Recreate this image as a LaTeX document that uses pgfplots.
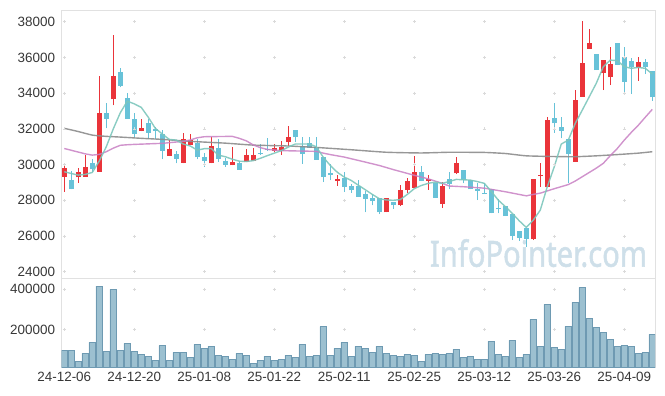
\documentclass[border=0pt]{standalone}
\usepackage{fontspec}
\setmainfont{Liberation Sans}
\newfontfamily\wmfont[FakeBold=1.6]{Noto Sans}
\usepackage{pgfplots}
\usepackage{pgfplotstable}
\pgfplotsset{compat=1.18}
\definecolor{upred}{RGB}{234,52,58}
\definecolor{dnblue}{RGB}{104,194,216}
\definecolor{framegray}{RGB}{225,225,225}
\definecolor{crossgray}{RGB}{218,218,218}
\definecolor{labelgray}{RGB}{55,55,55}
\definecolor{maA}{RGB}{125,198,188}
\definecolor{maB}{RGB}{200,128,195}
\definecolor{maC}{RGB}{140,140,140}
\definecolor{volfill}{RGB}{156,192,208}
\definecolor{voledge}{RGB}{110,154,178}
\definecolor{wmark}{RGB}{206,223,233}

\pgfplotstableread{
i O H L C
0 29320 30010 28480 29790
2 29280 29790 28980 29580
3 29320 30530 29320 29840
5 29600 34980 29600 32870
7 33650 37250 33310 34960
11 31900 32530 31860 32040
15 30480 31410 30480 30850
17 30100 31750 30070 31410
18 31070 31690 31070 31370
21 30070 31560 30070 31040
24 29960 30960 29960 30130
26 30130 30870 30130 30560
27 30220 30910 30220 30560
30 30780 31150 30690 30930
31 30780 31330 30560 31000
32 31240 32150 31060 31520
39 29070 29390 28810 29190
46 27330 28150 27330 28150
48 27720 28830 27670 28590
49 28590 29260 28410 29060
50 28700 30500 28700 29610
52 29070 29440 28590 29220
54 27810 29020 27590 28780
56 29510 30400 29470 30100
67 25810 29170 25770 29170
68 29360 30100 28760 29430
69 28720 32680 28720 32490
73 30160 34170 30160 33610
74 33800 38060 33800 35700
75 36490 37610 36490 36790
77 35140 35850 34170 35850
78 34880 36600 34450 35630
82 35390 36000 34700 35740
}\upcandles

\pgfplotstableread{
i O H L C
1 29130 29650 28610 28610
4 30070 30290 29600 29730
6 32870 33430 32030 32570
8 35180 35390 34320 34400
9 33710 33990 32570 32570
10 32530 32900 31520 31710
12 32310 32530 31410 31780
13 31970 32120 31460 31900
14 31710 31930 30290 30780
16 30590 30780 30070 30330
19 31190 31410 30290 30400
20 30400 30630 29880 30220
22 30920 31410 30160 30330
23 30180 30350 29880 29990
25 30070 30220 29700 29700
28 30630 31150 30560 30590
29 30870 31480 30780 30810
33 31960 31960 31240 31520
34 31060 31520 30040 30590
35 31190 31520 30930 30930
36 31000 31520 30260 30260
37 30410 30410 29020 29300
38 29520 30040 29110 29410
40 29260 29570 28460 28740
41 28780 28930 28410 28560
42 28780 29110 28190 28190
43 28370 28520 27330 28070
44 28110 28330 27720 27960
45 28150 28150 27220 27330
47 27910 27910 27540 27720
51 29560 29930 29070 29070
53 28960 28960 28150 28150
55 29170 29600 28610 28910
57 29690 29690 28950 29130
58 29130 29130 28610 28610
59 28650 28980 28010 28530
60 28420 28980 28350 28350
61 28610 28610 27270 27270
62 27550 28100 27270 27490
63 27680 27680 27120 27120
64 27230 27230 25770 26000
65 26290 26290 25730 25880
66 26440 26440 25400 25850
70 32600 33430 31780 32300
71 32120 32680 31470 31900
72 31410 31410 28950 30590
76 36190 36190 35290 35290
79 36820 36820 35570 35570
80 36000 36600 33950 34640
81 35800 35950 33950 35480
83 35740 35890 35070 35480
84 35240 35240 33570 33760
}\dncandles

\pgfplotstableread{
i v
0 95900
1 95900
2 43000
3 81000
4 135500
5 415000
6 90900
7 398000
8 95900
9 130600
10 90900
11 76000
12 66100
13 46300
14 119000
15 46300
16 86000
17 86000
18 61200
19 125600
20 105800
21 115700
22 71100
23 66100
24 51200
25 81000
26 71100
27 31400
28 46300
29 66100
30 46300
31 51200
32 71100
33 61200
34 125600
35 66100
36 71100
37 213200
38 71100
39 105800
40 135500
41 66100
42 115700
43 105800
44 86000
45 115700
46 81000
47 71100
48 66100
49 76000
50 71100
51 41300
52 76000
53 81000
54 76000
55 81000
56 100800
57 61200
58 66100
59 51200
60 51200
61 140500
62 76000
63 66100
64 145500
65 61200
66 76000
67 249600
68 115700
69 324000
70 110800
71 100800
72 214900
73 333900
74 408300
75 254600
76 209900
77 185100
78 150400
79 115700
80 120700
81 115700
82 81000
83 86000
84 175200
}\voltable

\pgfplotsset{
  myax/.style={
    scale only axis, width=593.3bp,
    xmin=-0.37, xmax=84.39,
    axis line style={draw=framegray, line width=0.8bp},
    major tick length=0pt,
    tick style={draw=none},
    scaled y ticks=false, scaled x ticks=false,
    ticklabel style={font=\fontsize{13.5}{14}\selectfont, text=labelgray},
    yticklabel style={inner sep=0pt, xshift=-6.5bp, anchor=east},
    xticklabel style={inner sep=0pt, yshift=-4.4bp, anchor=north},
  },
  crossmk/.style={only marks, mark=+, mark size=1.5bp, color=crossgray, mark options={line width=0.7bp}},
  candle/.style 2 args={draw=none, mark=none, forget plot,
    error bars/.cd, y dir=plus, y explicit, error mark=none,
    error bar style={line width=#2, draw=#1, solid}},
}

\begin{document}
\begin{tikzpicture}
\useasboundingbox (0,0) rectangle (665bp,396bp);
\node[anchor=base, text=wmark, inner sep=0pt] at (538.5bp,129.3bp)
  {\resizebox{217bp}{27.5bp}{\wmfont InfoPointer.com}};

% price panel
\begin{axis}[myax, at={(61.7bp,117.7bp)}, anchor=south west, height=268.3bp,
  ymin=23633, ymax=38655,
  xtick=\empty,
  ytick={24000,26000,28000,30000,32000,34000,36000,38000},
  yticklabels={24000,26000,28000,30000,32000,34000,36000,38000},
]
\pgfplotsinvokeforeach{0,10,...,80}{
  \addplot[crossmk] coordinates {(#1,24000) (#1,26000) (#1,28000) (#1,30000) (#1,32000) (#1,34000) (#1,36000) (#1,38000)};
}
% wicks
\addplot[candle={upred}{1bp}]
  table[x=i, y=L, y error plus expr=\thisrow{H}-\thisrow{L}] {\upcandles};
\addplot[candle={dnblue}{1bp}]
  table[x=i, y=L, y error plus expr=\thisrow{H}-\thisrow{L}] {\dncandles};
% bodies
\addplot[candle={upred}{5bp}]
  table[x=i, y=O, y error plus expr=\thisrow{C}-\thisrow{O}] {\upcandles};
\addplot[candle={dnblue}{5bp}]
  table[x=i, y=C, y error plus expr=\thisrow{O}-\thisrow{C}] {\dncandles};
% long MA (gray)
\addplot[maC, line width=1.4bp, opacity=0.9, mark=none, smooth, tension=0.3] coordinates {
(0,32030) (2,31850) (4,31650) (6,31580) (8,31540) (11,31470) (14,31410) (18,31300) (23,31200)
(27,31090) (32,31040) (36,30960) (41,30830) (46,30690) (51,30650) (55,30690) (60,30680) (63,30620)
(66,30490) (70,30450) (73,30440) (76,30490) (79,30560) (82,30640) (84,30720)};
% MA20 (pink)
\addplot[maB, line width=1.4bp, opacity=0.85, mark=none] coordinates {
(0,30900) (1,30800) (2,30700) (3,30600) (4,30530) (5,30570) (6,30720) (7,30920) (8,31080) (9,31110)
(10,31130) (14,31190) (17,31300) (18,31380) (19,31500) (20,31560) (24,31580) (25,31470) (26,31330)
(27,31100) (28,30950) (29,30850) (31,30780) (36,30740) (37,30640) (38,30560) (40,30420) (43,30140)
(45,29950) (47,29720) (50,29400) (52,29200) (54,28950) (55,28800) (57,28760) (60,28680) (63,28480)
(66,28250) (67,28330) (68,28400) (70,28650) (72,28880) (73,29080) (74,29320) (76,29800) (77,30070)
(78,30500) (79,30900) (80,31370) (81,31800) (82,32200) (83,32650) (84,33090)};
% MA5 (teal)
\addplot[maA, line width=1.4bp, opacity=0.9, mark=none] coordinates {
(0,29600) (1,29500) (2,29410) (3,29450) (4,29560) (5,30200) (6,31000) (7,32000) (8,32900) (9,33550)
(10,33400) (11,33200) (12,32650) (13,32030) (14,31710) (15,31410) (16,31370) (17,31150) (18,31040)
(19,30810) (20,30890) (21,30900) (22,30530) (23,30440) (24,30300) (25,30190) (26,30170) (27,30220)
(28,30350) (29,30500) (30,30640) (31,30780) (32,30980) (33,31150) (34,31150) (35,31150) (36,31000)
(37,30410) (38,29950) (39,29570) (40,29300) (41,29110) (42,28850) (43,28590) (44,28330) (45,28090)
(46,28020) (47,28000) (48,28040) (49,28330) (50,28650) (51,28830) (52,28950) (53,29020) (54,28950)
(55,29050) (56,29170) (57,29150) (58,29130) (59,29050) (60,28950) (61,28500) (62,28010) (63,27650)
(64,27270) (65,26850) (66,26480) (67,26890) (68,27450) (69,28760) (70,29880) (71,31150) (72,31370)
(73,32310) (74,33050) (75,33800) (76,34550) (77,35480) (78,35850) (79,35820) (80,35480) (81,35390)
(82,35440) (83,35390) (84,35070)};
\end{axis}

% volume panel
\begin{axis}[myax, at={(61.7bp,28.7bp)}, anchor=south west, height=89bp,
  ymin=11900, ymax=453600,
  xtick={0,10,...,80},
  xticklabels={24-12-06,24-12-20,25-01-08,25-01-22,25-02-11,25-02-25,25-03-12,25-03-26,25-04-09},
  ytick={200000,400000},
  yticklabels={200000,400000},
]
\pgfplotsinvokeforeach{0,10,...,80}{
  \addplot[crossmk] coordinates {(#1,200000) (#1,400000)};
}
\addplot[ybar, bar width=0.97, fill=volfill, draw=voledge, line width=0.7bp] table[x=i, y=v] {\voltable};
\end{axis}
\end{tikzpicture}
\end{document}
